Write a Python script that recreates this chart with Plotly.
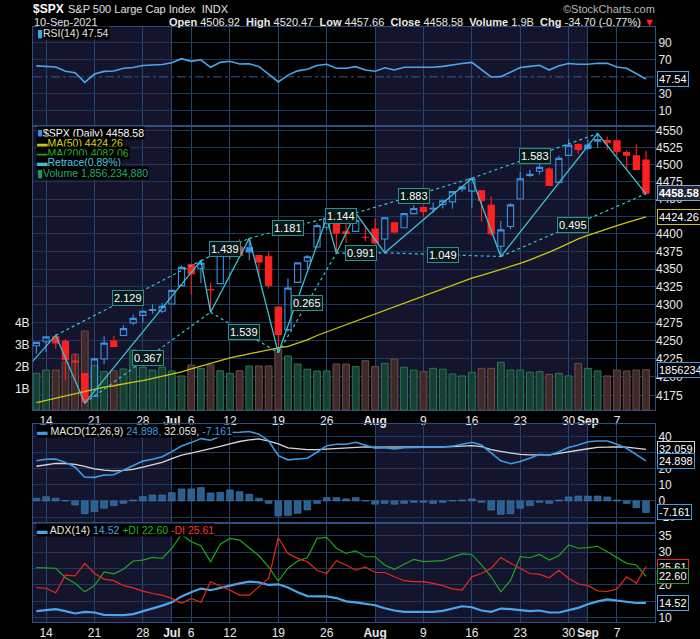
import math
import plotly.graph_objects as go

# ---------------- data ----------------
dates = ["2021-06-11", "2021-06-14", "2021-06-15", "2021-06-16", "2021-06-17", "2021-06-18",
         "2021-06-21", "2021-06-22", "2021-06-23", "2021-06-24", "2021-06-25",
         "2021-06-28", "2021-06-29", "2021-06-30", "2021-07-01", "2021-07-02",
         "2021-07-06", "2021-07-07", "2021-07-08", "2021-07-09",
         "2021-07-12", "2021-07-13", "2021-07-14", "2021-07-15", "2021-07-16",
         "2021-07-19", "2021-07-20", "2021-07-21", "2021-07-22", "2021-07-23",
         "2021-07-26", "2021-07-27", "2021-07-28", "2021-07-29", "2021-07-30",
         "2021-08-02", "2021-08-03", "2021-08-04", "2021-08-05", "2021-08-06",
         "2021-08-09", "2021-08-10", "2021-08-11", "2021-08-12", "2021-08-13",
         "2021-08-16", "2021-08-17", "2021-08-18", "2021-08-19", "2021-08-20",
         "2021-08-23", "2021-08-24", "2021-08-25", "2021-08-26", "2021-08-27",
         "2021-08-30", "2021-08-31", "2021-09-01", "2021-09-02", "2021-09-03",
         "2021-09-07", "2021-09-08", "2021-09-09", "2021-09-10"]
pre_dates = ["2021-06-09", "2021-06-10"]

open_ = [4242.90, 4248.31, 4255.28, 4248.87, 4220.37, 4204.78, 4173.40, 4224.61, 4249.27, 4256.97, 4274.45,
         4284.90, 4293.21, 4290.65, 4300.73, 4326.60, 4356.46, 4351.01, 4321.07, 4329.38,
         4372.41, 4381.07, 4380.11, 4369.02, 4367.43, 4296.40, 4265.11, 4331.13, 4361.27, 4381.20,
         4409.58, 4416.38, 4402.95, 4403.59, 4395.12, 4406.86, 4392.74, 4415.95, 4408.86, 4429.07,
         4437.77, 4435.79, 4442.18, 4446.08, 4464.84, 4461.65, 4462.12, 4440.94, 4382.44, 4410.56,
         4450.29, 4484.40, 4490.45, 4493.75, 4474.10, 4513.76, 4529.75, 4528.80, 4534.48, 4532.42,
         4535.38, 4518.09, 4513.02, 4506.92]
high = [4248.38, 4255.59, 4257.16, 4251.89, 4232.29, 4204.78, 4226.24, 4255.84, 4256.60, 4271.28, 4286.12,
        4292.14, 4300.52, 4302.43, 4320.66, 4355.43, 4356.46, 4361.88, 4330.88, 4371.60,
        4386.68, 4392.37, 4393.68, 4369.02, 4375.09, 4296.40, 4336.84, 4359.70, 4369.87, 4415.18,
        4422.73, 4416.38, 4415.47, 4429.97, 4412.25, 4422.18, 4423.79, 4416.17, 4429.76, 4440.82,
        4439.39, 4445.21, 4449.44, 4461.77, 4468.37, 4480.26, 4462.12, 4454.32, 4418.61, 4444.35,
        4489.88, 4492.81, 4501.71, 4495.90, 4513.33, 4537.36, 4531.39, 4537.11, 4545.85, 4541.45,
        4535.38, 4521.79, 4529.90, 4520.47]
low = [4232.25, 4234.07, 4238.35, 4195.99, 4196.05, 4164.40, 4173.40, 4217.27, 4241.43, 4256.97, 4271.16,
       4274.67, 4287.04, 4287.96, 4300.73, 4326.60, 4314.37, 4329.79, 4289.37, 4329.38,
       4364.03, 4366.92, 4362.36, 4340.70, 4322.53, 4233.13, 4262.05, 4331.13, 4350.06, 4381.20,
       4405.45, 4372.51, 4387.01, 4403.59, 4389.65, 4384.81, 4373.00, 4400.23, 4408.86, 4429.07,
       4424.74, 4430.03, 4436.42, 4435.96, 4460.82, 4437.66, 4417.83, 4397.59, 4367.73, 4406.80,
       4450.29, 4482.28, 4485.66, 4468.99, 4474.10, 4513.76, 4515.80, 4522.02, 4524.66, 4521.65,
       4513.00, 4493.95, 4492.07, 4457.66]
close = [4247.44, 4255.15, 4246.59, 4223.70, 4221.86, 4166.45, 4224.79, 4246.44, 4241.84, 4266.49, 4280.70,
         4290.61, 4291.80, 4297.50, 4319.94, 4352.34, 4343.54, 4358.13, 4320.82, 4369.55,
         4384.63, 4369.21, 4374.30, 4360.03, 4327.16, 4258.49, 4323.06, 4358.69, 4367.48, 4411.79,
         4422.30, 4401.46, 4400.64, 4419.15, 4395.26, 4387.16, 4423.15, 4402.66, 4429.10, 4436.52,
         4432.35, 4436.75, 4447.70, 4460.83, 4468.00, 4479.71, 4448.08, 4400.27, 4405.80, 4441.67,
         4479.53, 4486.23, 4496.19, 4470.00, 4509.37, 4528.79, 4522.68, 4524.09, 4536.95, 4535.43,
         4520.03, 4514.07, 4493.28, 4458.58]
prev_close0 = 4239.18

volume_b = [1.69, 1.84, 1.84, 2.20, 2.57, 3.64, 2.04, 1.77, 1.81, 1.89, 2.76,
            1.97, 1.84, 1.97, 1.80, 1.57, 2.07, 1.92, 2.07, 1.81,
            1.69, 1.81, 2.03, 2.03, 2.03, 2.80, 2.49, 2.12, 1.88, 1.80,
            1.80, 2.12, 2.12, 2.00, 2.27, 2.00, 2.15, 2.35, 1.97, 1.84,
            1.77, 1.92, 1.88, 1.66, 1.57, 1.74, 1.92, 1.92, 2.20, 1.84,
            1.84, 1.74, 1.77, 1.64, 1.69, 1.57, 2.15, 1.92, 1.80, 1.57,
            1.84, 1.80, 1.84, 1.856234880]

ma50 = [4165, 4168, 4171, 4174, 4177, 4180, 4183, 4186, 4188, 4191, 4193,
        4195, 4198, 4200, 4203, 4207, 4211, 4215, 4218, 4222,
        4226, 4229, 4232, 4235, 4238, 4240, 4242, 4246, 4251, 4257,
        4262, 4267, 4272, 4277, 4282, 4287, 4292, 4297, 4302, 4307,
        4312, 4317, 4322, 4327, 4332, 4337, 4341, 4345, 4349, 4353,
        4358, 4363, 4368, 4374, 4380, 4387, 4393, 4398, 4403, 4408,
        4412, 4416, 4420, 4424.26]
ma200_last = 4082.06
retrace_pct = 0.89

rsi = [62.8, 62.5, 61.5, 56.5, 54.8, 43.5, 53.3, 56.4, 56.8, 60.0, 61.0,
       63.3, 63.8, 64.5, 66.6, 71.3, 68.2, 70.0, 61.2, 67.0,
       68.2, 65.1, 65.4, 62.0, 53.3, 44.0, 52.0, 57.0, 58.8, 63.4,
       64.7, 60.0, 60.0, 61.9, 58.0, 56.5, 60.7, 58.0, 61.2, 61.2,
       61.2, 61.2, 62.3, 64.2, 65.6, 67.0, 58.0, 49.9, 50.2, 56.0,
       61.0, 62.3, 63.5, 58.0, 63.1, 65.6, 64.7, 64.7, 66.0, 65.8,
       61.6, 60.0, 53.3, 47.54]

macd = [25.0, 26.0, 26.1, 24.0, 21.0, 14.8, 14.7, 16.1, 16.3, 19.0, 22.0,
        24.8, 26.0, 27.5, 30.7, 34.2, 36.3, 38.8, 37.8, 40.0,
        42.6, 42.8, 43.2, 41.6, 37.4, 28.2, 25.6, 26.1, 26.6, 30.3,
        34.4, 35.3, 35.3, 36.5, 34.8, 32.9, 33.2, 32.4, 33.2, 33.5,
        33.5, 33.5, 33.5, 34.1, 35.2, 36.5, 34.8, 29.7, 25.0, 23.2,
        24.5, 26.6, 29.0, 28.4, 30.6, 33.3, 34.8, 36.8, 37.3, 37.3,
        35.3, 32.8, 29.1, 24.898]
signal = [21.6, 22.5, 23.4, 23.3, 22.8, 21.5, 19.9, 19.2, 18.7, 19.0, 19.7,
          21.0, 22.4, 24.0, 26.4, 28.5, 29.8, 31.1, 32.4, 34.0,
          35.5, 37.0, 38.0, 38.6, 37.3, 35.5, 33.0, 32.3, 32.0, 32.0,
          32.3, 32.8, 33.2, 33.6, 33.6, 33.5, 33.5, 33.5, 33.5, 33.5,
          33.5, 33.5, 33.6, 33.8, 34.1, 34.4, 33.8, 32.0, 30.8, 29.8,
          29.0, 28.7, 28.6, 28.7, 29.6, 30.7, 31.6, 32.5, 33.4, 33.6,
          33.7, 33.5, 32.9, 32.059]
hist = [1.7, 2.6, 1.7, 0.3, -2.5, -7.9, -6.6, -4.5, -2.9, -1.5, 0.6,
        2.7, 3.7, 3.7, 5.2, 7.5, 7.5, 8.3, 5.0, 5.4,
        6.9, 5.8, 4.2, 1.7, -1.5, -9.3, -9.1, -7.7, -5.6, -1.5,
        2.1, 2.1, 1.3, 2.1, 0.3, -2.0, -1.5, -2.0, -1.5, -0.8,
        -0.8, -1.5, -0.8, 0.2, 0.6, 1.3, -0.8, -5.6, -8.3, -7.9,
        -4.5, -2.9, -0.8, -1.5, 0.6, 2.5, 3.1, 3.1, 3.1, 2.5,
        0.6, -1.5, -4.2, -7.161]

adx = [12.0, 12.3, 12.6, 12.0, 11.3, 11.8, 11.6, 10.9, 10.8, 10.8, 11.1,
       11.9, 12.9, 13.7, 14.7, 16.5, 17.8, 18.9, 18.4, 19.0,
       19.8, 20.5, 21.0, 20.8, 20.0, 20.2, 19.2, 17.8, 16.6, 16.5,
       16.5, 16.0, 15.0, 14.7, 14.2, 13.8, 12.9, 12.2, 11.8, 11.8,
       11.8, 11.8, 12.1, 12.8, 13.5, 13.2, 12.2, 11.8, 12.8, 12.6,
       12.4, 12.0, 12.2, 11.6, 11.6, 12.3, 13.0, 14.1, 15.0, 15.6,
       15.2, 14.8, 14.5, 14.52]
plus_di = [25.3, 25.3, 25.1, 22.2, 20.5, 17.9, 19.8, 24.0, 23.4, 24.8, 27.3,
           27.6, 28.4, 28.1, 31.2, 35.4, 33.2, 32.0, 27.1, 32.4,
           34.2, 33.7, 31.2, 28.9, 25.5, 21.2, 25.1, 27.3, 28.3, 34.2,
           34.5, 31.2, 29.6, 30.4, 28.6, 28.6, 26.1, 24.8, 26.3, 27.8,
           27.1, 27.3, 27.4, 28.5, 29.5, 29.3, 26.1, 22.5, 17.9, 21.4,
           28.6, 28.3, 29.3, 27.6, 28.9, 32.2, 31.2, 31.4, 31.8, 30.1,
           28.3, 26.6, 26.1, 22.60]
minus_di = [19.2, 19.0, 17.6, 23.0, 22.8, 26.6, 23.5, 21.8, 21.3, 19.8, 19.1,
            18.1, 17.4, 16.9, 15.9, 14.4, 15.9, 14.7, 21.0, 19.8,
            18.4, 16.9, 16.9, 19.5, 22.0, 34.4, 29.6, 28.1, 27.1, 24.5,
            23.5, 27.4, 26.1, 24.5, 25.5, 23.8, 23.8, 22.5, 21.3, 21.0,
            21.0, 20.5, 19.8, 18.8, 18.4, 22.5, 23.5, 25.1, 28.4, 26.6,
            25.1, 23.5, 23.2, 22.2, 24.5, 22.0, 20.3, 19.8, 18.2, 18.0,
            18.8, 22.5, 20.5, 25.61]

zz_dates = ["2021-06-09", "2021-06-15", "2021-06-18", "2021-07-07", "2021-07-08", "2021-07-14",
            "2021-07-19", "2021-07-26", "2021-07-27", "2021-07-29", "2021-08-03", "2021-08-16",
            "2021-08-19", "2021-09-02", "2021-09-10"]
zz_price = [4197.5, 4257.16, 4164.40, 4361.88, 4289.37, 4393.68, 4233.13, 4422.73, 4372.51,
            4429.97, 4373.00, 4480.26, 4367.73, 4545.85, 4457.66]
retrace_labels = ["2.129", "0.367", "1.439", "1.539", "1.181", "0.265",
                  "1.144", "0.991", "1.883", "1.049", "1.583", "0.495"]

tick_dates = ["2021-06-14", "2021-06-21", "2021-06-28", "2021-07-01", "2021-07-06", "2021-07-12",
              "2021-07-19", "2021-07-26", "2021-08-02", "2021-08-09", "2021-08-16", "2021-08-23",
              "2021-08-30", "2021-09-01", "2021-09-07"]
tick_labels = ["14", "21", "28", "<b>Jul</b>", "6", "12", "19", "26", "<b>Aug</b>",
               "9", "16", "23", "30", "<b>Sep</b>", "7"]

price_ticks = [4175, 4200, 4225, 4250, 4275, 4300, 4325, 4350, 4375, 4400, 4425, 4450, 4475, 4500, 4525, 4550]
price_tick_labels = ["4175", "4200", "4225", "4250", "4275", "4300", "4325", "4350", "4375", "4400",
                     "", "4450", "4475", "4500", "4525", "4550"]
vol_ticks = [1e9, 2e9, 3e9, 4e9]
vol_tick_labels = ["1B", "2B", "3B", "4B"]
rsi_ticks = [10, 30, 70, 90]
rsi_tick_labels = ["10", "30", "70", "90"]
macd_ticks = [-10, 0, 10, 20, 30, 40]
macd_tick_labels = ["-10", "0", "10", "20", "", "40"]
adx_ticks = [10, 15, 20, 25, 30, 35]
adx_tick_labels = ["10", "", "20", "", "30", "35"]

# ---------------- styling ----------------
FONT = "Liberation Sans, Arial, sans-serif"
BG = "#000000"
NAVY = "#14152c"
GRID_X = "#24466f"
GRID_Y = "#1d385c"
BORDER = "#2e4f80"
TXT = "#e8e8e8"
BLUE = "#3d8fe6"
RED = "#ff2020"
CYAN = "#3cc3d3"
YELLOW = "#c9c912"

n = len(dates)
xi = list(range(n))
pos = {d: i for i, d in enumerate(dates)}
for k, d in enumerate(reversed(pre_dates)):
    pos[d] = -(k + 1)
tick_idx = [pos[d] for d in tick_dates]
x_range = [-0.35, n - 1 + 0.93]

# panel layout (paper fractions)
dom_rsi = [0.8336, 1.0]
dom_main = [0.3563, 0.8336]
dom_macd = [0.1664, 0.3328]
dom_adx = [0.0, 0.1664]

fig = go.Figure()

prev = [prev_close0] + close[:-1]

# volume (base axis of main panel)
vol = [v * 1e9 for v in volume_b]
vol_fill = ["#173f33" if c >= p else "#3f2a2a" for c, p in zip(close, prev)]
vol_edge = ["#2c7556" if c >= p else "#6d4c4c" for c, p in zip(close, prev)]
fig.add_trace(go.Bar(x=xi, y=vol, width=0.7, marker=dict(color=vol_fill, line=dict(color=vol_edge, width=1)),
                     xaxis="x2", yaxis="y2", showlegend=False, hoverinfo="skip"))

# MA50
fig.add_trace(go.Scatter(x=xi, y=ma50, mode="lines", line=dict(color=YELLOW, width=1.3),
                         xaxis="x2", yaxis="y3", showlegend=False, hoverinfo="skip"))

# zigzag retrace
zz_x = [pos[d] for d in zz_dates]
fig.add_trace(go.Scatter(x=zz_x, y=zz_price, mode="lines", line=dict(color=CYAN, width=1.3),
                         xaxis="x2", yaxis="y3", showlegend=False, hoverinfo="skip"))
dx, dy = [], []
mids = []
for k in range(1, len(zz_x) - 2):
    dx += [zz_x[k], zz_x[k + 2], None]
    dy += [zz_price[k], zz_price[k + 2], None]
    mids.append(((zz_x[k] + zz_x[k + 2]) / 2,
                 (math.log10(zz_price[k]) + math.log10(zz_price[k + 2])) / 2))
fig.add_trace(go.Scatter(x=dx, y=dy, mode="lines", line=dict(color=CYAN, width=1.2, dash="3px,3px"),
                         xaxis="x2", yaxis="y3", showlegend=False, hoverinfo="skip", connectgaps=False))

# candles in four StockCharts styles
groups = {"hb": [], "hr": [], "fb": [], "fr": []}
for i in range(n):
    if close[i] >= open_[i]:
        groups["hb" if close[i] >= prev[i] else "hr"].append(i)
    else:
        groups["fb" if close[i] >= prev[i] else "fr"].append(i)
styles = {"hb": (BLUE, "rgba(0,0,0,0)"), "hr": (RED, "rgba(0,0,0,0)"),
          "fb": (BLUE, BLUE), "fr": (RED, RED)}
for g, idxs in groups.items():
    if not idxs:
        continue
    lc, fc = styles[g]
    st = dict(line=dict(color=lc, width=1.1), fillcolor=fc)
    fig.add_trace(go.Candlestick(x=idxs, open=[open_[i] for i in idxs], high=[high[i] for i in idxs],
                                 low=[low[i] for i in idxs], close=[close[i] for i in idxs],
                                 increasing=st, decreasing=st, whiskerwidth=0,
                                 xaxis="x2", yaxis="y3", showlegend=False, hoverinfo="skip"))

# RSI
fig.add_trace(go.Scatter(x=xi, y=rsi, mode="lines", line=dict(color="#4aa6ea", width=1.6),
                         xaxis="x", yaxis="y", showlegend=False, hoverinfo="skip"))

# MACD
fig.add_trace(go.Bar(x=xi, y=hist, width=0.7, marker=dict(color="#2b5f90", line=dict(color="#3f7fb8", width=0.6)),
                     xaxis="x3", yaxis="y4", showlegend=False, hoverinfo="skip"))
fig.add_trace(go.Scatter(x=xi, y=signal, mode="lines", line=dict(color="#d8d8d8", width=1.3),
                         xaxis="x3", yaxis="y4", showlegend=False, hoverinfo="skip"))
fig.add_trace(go.Scatter(x=xi, y=macd, mode="lines", line=dict(color="#3d9be9", width=1.6),
                         xaxis="x3", yaxis="y4", showlegend=False, hoverinfo="skip"))

# ADX
fig.add_trace(go.Scatter(x=xi, y=adx, mode="lines", line=dict(color="#4aa6ea", width=2.2),
                         xaxis="x4", yaxis="y5", showlegend=False, hoverinfo="skip"))
fig.add_trace(go.Scatter(x=xi, y=plus_di, mode="lines", line=dict(color="#1fa51f", width=1.2),
                         xaxis="x4", yaxis="y5", showlegend=False, hoverinfo="skip"))
fig.add_trace(go.Scatter(x=xi, y=minus_di, mode="lines", line=dict(color="#e8281e", width=1.2),
                         xaxis="x4", yaxis="y5", showlegend=False, hoverinfo="skip"))

# ---------------- month shading ----------------
month_starts = [0] + [i for i in range(1, n) if dates[i][5:7] != dates[i - 1][5:7]]
bounds = month_starts + [n]
shapes = []
for m in range(len(month_starts)):
    if m % 2 != 0:
        continue
    x0 = x_range[0] if bounds[m] == 0 else bounds[m]
    x1 = x_range[1] if bounds[m + 1] == n else bounds[m + 1]
    for xr, yr in [("x", "y domain"), ("x2", "y2 domain"), ("x3", "y4 domain"), ("x4", "y5 domain")]:
        shapes.append(dict(type="rect", xref=xr, yref=yr, x0=x0, x1=x1, y0=0, y1=1,
                           fillcolor=NAVY, line=dict(width=0), layer="below"))
shapes.append(dict(type="line", xref="x domain", yref="y", x0=0, x1=1, y0=50, y1=50,
                   line=dict(color="#3a5a84", width=1, dash="dashdot"), layer="below"))

# ---------------- axes ----------------
def xax(anchor, labels):
    return dict(domain=[0, 1], range=x_range, anchor=anchor, tickmode="array", tickvals=tick_idx,
                ticktext=tick_labels, showticklabels=labels, tickangle=0, automargin=False,
                showgrid=True, gridcolor=GRID_X, gridwidth=1,
                zeroline=False, showline=True, mirror=True, linecolor=BORDER, linewidth=1, ticks="",
                tickfont=dict(family=FONT, size=12, color=TXT), fixedrange=True)

def yax(domain, rng, ticks, labels, anchor, **kw):
    d = dict(domain=domain, range=rng, anchor=anchor, side="right", tickmode="array", tickvals=ticks,
             ticktext=labels, automargin=False, tickangle=0,
             showgrid=True, gridcolor=GRID_Y, gridwidth=1, zeroline=False, showline=True, mirror=True,
             linecolor=BORDER, linewidth=1, ticks="", tickfont=dict(family=FONT, size=12, color=TXT),
             fixedrange=True)
    d.update(kw)
    return d

price_lo, price_hi = 4155.1, 4557.1
vol_top = 13.09e9

layout_axes = dict(
    xaxis=xax("y", False),
    xaxis2=dict(xax("y2", True), rangeslider=dict(visible=False)),
    xaxis3=xax("y4", False),
    xaxis4=xax("y5", True),
    yaxis=yax(dom_rsi, [-7.6, 108.4], rsi_ticks, rsi_tick_labels, "x"),
    yaxis2=yax(dom_main, [0, vol_top], vol_ticks, vol_tick_labels, "x2", side="left", showgrid=False),
    yaxis3=dict(overlaying="y2", anchor="x2", side="right", type="log",
                range=[math.log10(price_lo), math.log10(price_hi)], tickmode="array",
                tickvals=price_ticks, ticktext=price_tick_labels, showgrid=True, automargin=False,
                gridcolor=GRID_Y, zeroline=False, showline=False, ticks="", tickangle=0,
                tickfont=dict(family=FONT, size=12, color=TXT), fixedrange=True),
    yaxis4=yax(dom_macd, [-13.7, 47.9], macd_ticks, macd_tick_labels, "x3"),
    yaxis5=yax(dom_adx, [8.7, 38.9], adx_ticks, adx_tick_labels, "x4"),
)

# ---------------- annotations ----------------
H_PLOT = 595.0
W_PLOT = 622.0

def py(Y):
    return (622.0 - Y) / H_PLOT

def px(X):
    return (X - 33.0) / W_PLOT

ann = []

def txt(text, X, Y, size=12, color=TXT, xanchor="left", bg=None, **kw):
    a = dict(text=text, xref="paper", yref="paper", x=px(X), y=py(Y), xanchor=xanchor, yanchor="middle",
             showarrow=False, font=dict(family=FONT, size=size, color=color), borderpad=0)
    if bg:
        a["bgcolor"] = bg
    a.update(kw)
    ann.append(a)

last = n - 1
chg = close[last] - close[last - 1]
pct = chg / close[last - 1] * 100
txt("<b>$SPX</b>", 32, 9, size=12, color="#ffffff")
txt("S&P 500 Large Cap Index  INDX", 67, 9, size=11, color="#e0e0e0")
txt("©StockCharts.com", 656, 9, size=11, color="#b8b8b8", xanchor="right")
txt("10-Sep-2021", 33, 22, size=11, color="#e0e0e0")
quote = ("<b>Open</b> %.2f  <b>High</b> %.2f  <b>Low</b> %.2f  <b>Close</b> %.2f  <b>Volume</b> %.1fB  "
         "<b>Chg</b> %.2f (%.2f%%) <span style='color:#ff2020'>▼</span>"
         % (open_[last], high[last], low[last], close[last], volume_b[last], chg, pct))
txt(quote, 656, 22, size=11, color="#e8e8e8", xanchor="right")

# panel legends
txt("<span style='color:#4aa6ea'>▮</span>RSI(14) %.2f" % rsi[last], 36, 33, size=10.5, color="#e0e0e0", bg="#000000")
leg_y0 = 132.5
leg_dy = 10.0
txt("<span style='color:#3d8fe6'>▮</span>$SPX (Daily) %.2f" % close[last], 36, leg_y0, size=10.5, color="#ffffff", bg="#000000")
txt("<span style='color:#c9c912'>▬</span>MA(50) %.2f" % ma50[last], 36, leg_y0 + leg_dy, size=10.5, color="#d4d414", bg="#000000")
txt("<span style='color:#1fa51f'>▬</span>MA(200) %.2f" % ma200_last, 36, leg_y0 + 2 * leg_dy, size=10.5, color="#22b022", bg="#000000")
txt("<span style='color:#3cc3d3'>▬</span>Retrace(%.2f%%)" % retrace_pct, 36, leg_y0 + 3 * leg_dy, size=10.5, color="#48cde0", bg="#000000")
txt("<span style='color:#1c9a6a'>▮</span>Volume {:,}".format(int(round(volume_b[last] * 1e9))), 36, leg_y0 + 4 * leg_dy,
    size=10.5, color="#1fae72", bg="#000000")
txt("<span style='color:#3d9be9'>▬</span> MACD(12,26,9) <span style='color:#3d9be9'>%.3f,</span> %.3f, "
    "<span style='color:#3d9be9'>%.3f</span>" % (macd[last], signal[last], hist[last]),
    36, 431, size=10.5, color="#e8e8e8", bg="#000000")
txt("<span style='color:#4aa6ea'>▬</span> ADX(14) <span style='color:#4aa6ea'>%.2f</span> "
    "<span style='color:#22b022'>+DI %.2f</span> <span style='color:#ff3030'>-DI %.2f</span>"
    % (adx[last], plus_di[last], minus_di[last]), 36, 530, size=10.5, color="#e8e8e8", bg="#000000")

# retrace ratio labels
for (mx, my), lab in zip(mids, retrace_labels):
    ann.append(dict(text=lab, xref="x2", yref="y3", x=mx, y=my, showarrow=False,
                    font=dict(family=FONT, size=11, color="#ffffff"), bgcolor="#071818",
                    bordercolor="#2d8f8f", borderwidth=1, borderpad=1))

# right side value boxes
def vbox(text, yref, y, border, bold=False, bg="#000000"):
    ann.append(dict(text=("<b>%s</b>" % text) if bold else text, xref="paper", yref=yref, x=1.004, y=y,
                    xanchor="left", yanchor="middle", showarrow=False,
                    font=dict(family=FONT, size=11, color="#ffffff"), bgcolor=bg,
                    bordercolor=border, borderwidth=1, borderpad=1))

vbox("%.2f" % rsi[last], "y", rsi[last], "#4aa6ea")
vbox("%.2f" % close[last], "y3", math.log10(close[last]), "#86a6cc", bold=True, bg="#1d2633")
vbox("%.2f" % ma50[last], "y3", math.log10(ma50[last]), YELLOW)
vbox("%d" % int(round(volume_b[last] * 1e9)), "y2", volume_b[last] * 1e9, "#4a8fd8")
vbox("%.3f" % signal[last], "y4", signal[last], "#d8d8d8")
vbox("%.3f" % macd[last], "y4", macd[last], "#3d9be9")
vbox("%.3f" % hist[last], "y4", hist[last], "#3d9be9")
vbox("%.2f" % minus_di[last], "y5", minus_di[last], "#e8281e")
vbox("%.2f" % plus_di[last], "y5", plus_di[last], "#1fa51f")
vbox("%.2f" % adx[last], "y5", adx[last], "#4aa6ea")

fig.update_layout(
    width=700, height=639,
    margin=dict(l=33, r=45, t=27, b=17, autoexpand=False),
    paper_bgcolor=BG, plot_bgcolor=BG,
    showlegend=False, hovermode=False,
    boxgap=0.2, boxgroupgap=0.2,
    shapes=shapes, annotations=ann,
    font=dict(family=FONT, color=TXT, size=12),
    **layout_axes,
)

fig.write_html("out.html", config={"displayModeBar": False},
               post_script="document.body.style.margin='0';document.body.style.background='#000';"
                           "document.body.style.overflow='hidden';")
